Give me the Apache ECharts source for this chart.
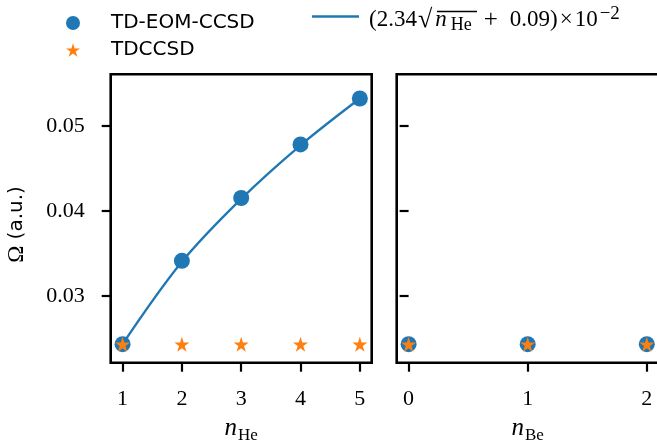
<!DOCTYPE html>
<html><head><meta charset="utf-8">
<script src="https://cdn.jsdelivr.net/npm/echarts@6/dist/echarts.min.js"></script>
<style>html,body{margin:0;padding:0;background:#fff}#c{width:657px;height:444px}</style>
</head><body><div id="c"></div>
<script>
// ---- data ----
const nHe = [1, 2, 3, 4, 5];
const eomHe = [0.0243, 0.0341, 0.0415, 0.0478, 0.0532];
const fitHe = [0.0243, 0.0340, 0.0414, 0.0477, 0.0532];
const tdccsdHe = [0.0243, 0.0243, 0.0243, 0.0243, 0.0243];
const nBe = [0, 1, 2];
const eomBe = [0.0243, 0.0243, 0.0243];
const tdccsdBe = [0.0243, 0.0243, 0.0243];
const xTicksHe = [1, 2, 3, 4, 5];
const xTicksBe = [0, 1, 2];
const yTicks = [0.03, 0.04, 0.05];

const BLUE = '#1f77b4', ORANGE = '#ff7f0e';
function starPath() {
  let p = '';
  for (let i = 0; i < 10; i++) {
    const r = i % 2 === 0 ? 50 : 19.1;
    const a = -Math.PI / 2 + i * Math.PI / 5;
    const x = 50 + r * Math.cos(a), y = 50 + r * Math.sin(a);
    p += (i === 0 ? 'M' : 'L') + x.toFixed(2) + ',' + y.toFixed(2);
  }
  return 'path://' + p + 'Z';
}
const STAR = starPath();
const zip = (xs, ys) => xs.map((x, i) => [x, ys[i]]);

const serif = 'Liberation Serif';
const tickLabel = { color: '#000', fontFamily: serif, fontSize: 22 };
const tickStyle = { show: true, inside: false, length: 9, lineStyle: { color: '#000', width: 2.2 } };
const xNameStyle = { rich: {
  n: { fontFamily: serif, fontStyle: 'italic', fontSize: 25, color: '#000' },
  s: { fontFamily: serif, fontSize: 17, color: '#000', padding: [14, 0, 0, 1] } } };

const chart = echarts.init(document.getElementById('c'), null, { renderer: 'canvas' });
chart.setOption({
  animation: false,
  grid: [
    { left: 110.7, top: 74.3, width: 261, height: 288.4, outerBoundsMode: 'none', containLabel: false, show: true, borderColor: '#000', borderWidth: 2.6, backgroundColor: 'transparent' },
    { left: 396.7, top: 74.3, width: 262, height: 288.4, outerBoundsMode: 'none', containLabel: false, show: true, borderColor: '#000', borderWidth: 2.6, backgroundColor: 'transparent' }
  ],
  xAxis: [
    { type: 'value', gridIndex: 0, min: 0.8, max: 5.2, splitLine: { show: false }, axisLine: { show: false },
      axisTick: Object.assign({ customValues: xTicksHe }, tickStyle),
      axisLabel: Object.assign({ customValues: xTicksHe, margin: 26 }, tickLabel),
      name: '{n|n}{s|He}', nameLocation: 'middle', nameGap: 45, nameTextStyle: xNameStyle },
    { type: 'value', gridIndex: 1, min: -0.1, max: 2.1, splitLine: { show: false }, axisLine: { show: false },
      axisTick: Object.assign({ customValues: xTicksBe }, tickStyle),
      axisLabel: Object.assign({ customValues: xTicksBe, margin: 26 }, tickLabel),
      name: '{n|n}{s|Be}', nameLocation: 'middle', nameGap: 45, nameTextStyle: xNameStyle }
  ],
  yAxis: [
    { type: 'value', gridIndex: 0, min: 0.02212, max: 0.05605, splitLine: { show: false }, axisLine: { show: false },
      axisTick: Object.assign({ customValues: yTicks }, tickStyle),
      axisLabel: Object.assign({ customValues: yTicks, margin: 26, formatter: v => v.toFixed(2) }, tickLabel),
      name: '{o|Ω} (a.u.)', nameLocation: 'middle', nameRotate: 90, nameGap: 82,
      nameTextStyle: { fontFamily: 'DejaVu Sans', fontSize: 20, color: '#000', padding: [0, 12, 0, 0],
        rich: { o: { fontFamily: serif, fontSize: 23, color: '#000' } } } },
    { type: 'value', gridIndex: 1, min: 0.02212, max: 0.05605, splitLine: { show: false }, axisLine: { show: false },
      axisTick: Object.assign({ customValues: yTicks }, tickStyle),
      axisLabel: { show: false } }
  ],
  legend: [
    { orient: 'vertical', left: 61, top: 8, itemWidth: 14, itemHeight: 14, itemGap: 7,
      data: [{ name: 'TD-EOM-CCSD', icon: 'circle' }, { name: 'TDCCSD', icon: STAR }],
      textStyle: { fontFamily: 'DejaVu Sans', fontSize: 20, color: '#000', padding: [0, 0, 0, 26] } },
    { orient: 'vertical', left: 307, top: 0, itemWidth: 47, itemHeight: 2.6, itemGap: 14,
      data: [{ name: 'fit', icon: 'rect' }],
      formatter: () => '{t|(2.34}{r|√}{n|n}{s|He}{g| }{pl|+}{g| }{t|0.09)}{x|×}{t|10}{p|−2}',
      textStyle: { color: '#000', padding: [7, 0, 0, 5], rich: {
        t: { fontFamily: serif, fontSize: 23, color: '#000' },
        r: { fontFamily: serif, fontSize: 26, color: '#000', padding: [0, 2, 0, 1] },
        n: { fontFamily: serif, fontSize: 23, fontStyle: 'italic', color: '#000', padding: [0, 1, 0, 1] },
        s: { fontFamily: serif, fontSize: 18, color: '#000', padding: [10, 0, 0, 3] },
        g: { fontFamily: serif, fontSize: 23, color: '#000', width: 12 },
        pl: { fontFamily: serif, fontSize: 25, color: '#000' },
        x: { fontFamily: serif, fontSize: 23, color: '#000', padding: [0, 2, 0, 2] },
        p: { fontFamily: serif, fontSize: 19, color: '#000', padding: [0, 0, 11, 2] } } } }
  ],
  graphic: [
    { type: 'line', shape: { x1: 437, y1: 11.5, x2: 477, y2: 11.5 }, style: { stroke: '#000', lineWidth: 1.3 }, silent: true }
  ],
  series: [
    { name: 'fit', type: 'line', xAxisIndex: 0, yAxisIndex: 0, data: zip(nHe, fitHe), smooth: 0.35, showSymbol: false, symbol: 'none',
      lineStyle: { color: BLUE, width: 2.3 }, itemStyle: { color: BLUE }, z: 2 },
    { name: 'TD-EOM-CCSD', type: 'scatter', xAxisIndex: 0, yAxisIndex: 0, data: zip(nHe, eomHe), symbol: 'circle', symbolSize: 16,
      itemStyle: { color: BLUE, opacity: 1 }, z: 3 },
    { name: 'TDCCSD', type: 'scatter', xAxisIndex: 0, yAxisIndex: 0, data: zip(nHe, tdccsdHe), symbol: STAR, symbolSize: 15,
      itemStyle: { color: ORANGE, opacity: 1 }, z: 4 },
    { name: 'TD-EOM-CCSD', type: 'scatter', xAxisIndex: 1, yAxisIndex: 1, data: zip(nBe, eomBe), symbol: 'circle', symbolSize: 16,
      itemStyle: { color: BLUE, opacity: 1 }, z: 3 },
    { name: 'TDCCSD', type: 'scatter', xAxisIndex: 1, yAxisIndex: 1, data: zip(nBe, tdccsdBe), symbol: STAR, symbolSize: 15,
      itemStyle: { color: ORANGE, opacity: 1 }, z: 4 }
  ]
});
</script></body></html>
